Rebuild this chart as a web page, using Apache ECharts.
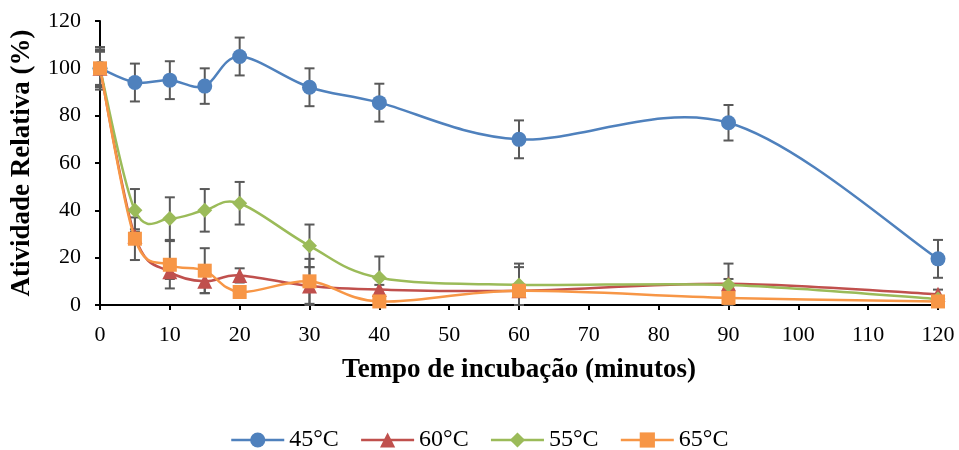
<!DOCTYPE html>
<html>
<head>
<meta charset="utf-8">
<script src="https://cdn.jsdelivr.net/npm/echarts@6/dist/echarts.min.js"></script>
<style>html,body{margin:0;padding:0;background:#fff}#c{width:959px;height:450px}</style>
</head>
<body>
<div id="c"></div>
<script>
const minutes = [0, 5, 10, 15, 20, 30, 40, 60, 90, 120];
const seriesNames = ['45°C', '60°C', '55°C', '65°C'];
const v45 = [100, 94, 95, 92.5, 105, 92, 85.5, 70, 77, 19.5];
const v60 = [100, 29, 14, 10, 12.5, 8, 6.5, 6, 9, 4.5];
const v55 = [100, 40, 36.5, 40, 43, 25, 11.5, 8.5, 8.5, 2.5];
const v65 = [100, 28, 17, 14.5, 5.5, 10, 1.5, 6, 3, 1.5];
const e45 = [9, 8, 8, 7.5, 8, 8, 8, 8, 7.5, 8];
const e60 = [7.5, 3, 3, 5, 3, 8, 2, 2, 2, 2];
const e55 = [8, 9, 9, 9, 9, 9, 9, 9, 9, 1];
const e65 = [7, 9, 10, 9.5, 2, 9.5, 2, 10, 2, 1];
const xTicks = { min: 0, max: 120, interval: 10 };
const yTicks = { min: 0, max: 120, interval: 20 };

const colors = ['#4F81BD', '#C0504D', '#9BBB59', '#F79646'];
const symbols = ['circle', 'triangle', 'diamond', 'rect'];
const symbolSizes = [15, 15, 15, 14];
const values = [v45, v60, v55, v65];
const errors = [e45, e60, e55, e65];
const font = "'Liberation Serif', 'Times New Roman', serif";

const series = [];
// error bars
values.forEach((vals, i) => {
  series.push({
    type: 'custom',
    name: seriesNames[i] + ' err',
    silent: true,
    z: 1,
    clip: false,
    data: minutes.map((m, k) => [m, vals[k], errors[i][k]]),
    renderItem: function (params, api) {
      const x = api.value(0), y = api.value(1), e = api.value(2);
      const top = api.coord([x, y + e]);
      const bot = api.coord([x, Math.max(0, y - e)]);
      const hw = 5;
      const st = { stroke: '#595959', lineWidth: 2 };
      return {
        type: 'group',
        children: [
          { type: 'line', shape: { x1: top[0], y1: top[1], x2: bot[0], y2: bot[1] }, style: st },
          { type: 'line', shape: { x1: top[0] - hw, y1: top[1], x2: top[0] + hw, y2: top[1] }, style: st },
          { type: 'line', shape: { x1: bot[0] - hw, y1: bot[1], x2: bot[0] + hw, y2: bot[1] }, style: st }
        ]
      };
    }
  });
});
// smoothed curves (Catmull-Rom style, like spreadsheet smoothing)
values.forEach((vals, i) => {
  series.push({
    type: 'custom',
    name: seriesNames[i] + ' curve',
    silent: true,
    z: 2,
    clip: false,
    data: minutes.map((m, k) => [m, vals[k], k]),
    renderItem: function (params, api) {
      const k = api.value(2);
      if (k >= minutes.length - 1) return null;
      const P = (j) => {
        j = Math.max(0, Math.min(minutes.length - 1, j));
        return api.coord([minutes[j], vals[j]]);
      };
      const p0 = P(k - 1), p1 = P(k), p2 = P(k + 1), p3 = P(k + 2);
      const t = 1 / 6;
      return {
        type: 'bezierCurve',
        shape: {
          x1: p1[0], y1: p1[1], x2: p2[0], y2: p2[1],
          cpx1: p1[0] + (p2[0] - p0[0]) * t, cpy1: p1[1] + (p2[1] - p0[1]) * t,
          cpx2: p2[0] - (p3[0] - p1[0]) * t, cpy2: p2[1] - (p3[1] - p1[1]) * t
        },
        style: { stroke: colors[i], lineWidth: 2.5, fill: null }
      };
    }
  });
});
// markers
values.forEach((vals, i) => {
  series.push({
    type: 'line',
    name: seriesNames[i],
    z: 3,
    symbol: symbols[i],
    symbolSize: symbolSizes[i],
    showAllSymbol: true,
    data: minutes.map((m, k) => [m, vals[k]]),
    lineStyle: { color: colors[i], width: 2.5, opacity: 0 },
    itemStyle: { color: colors[i] }
  });
});

const chart = echarts.init(document.getElementById('c'));
chart.setOption({
  animation: false,
  color: colors,
  grid: { left: 100, right: 21, top: 21, bottom: 145 },
  legend: {
    data: seriesNames.map((n, i) => ({
      name: n,
      lineStyle: { color: colors[i], width: 2.5, opacity: 1 },
      itemStyle: { color: colors[i] }
    })),
    left: 230,
    top: 428,
    padding: 0,
    itemWidth: 53,
    itemHeight: 19,
    itemGap: 21,
    textStyle: { fontFamily: font, fontSize: 24, color: '#000' }
  },
  xAxis: {
    type: 'value',
    min: xTicks.min, max: xTicks.max, interval: xTicks.interval,
    name: 'Tempo de incubação (minutos)',
    nameLocation: 'middle',
    nameGap: 52,
    nameTextStyle: { fontFamily: font, fontSize: 27, fontWeight: 'bold', color: '#000' },
    axisLine: { lineStyle: { color: '#000', width: 2 } },
    axisTick: { show: true, length: 5, lineStyle: { color: '#000', width: 2 } },
    axisLabel: { fontFamily: font, fontSize: 22, color: '#000', margin: 19 },
    splitLine: { show: false }
  },
  yAxis: {
    type: 'value',
    min: yTicks.min, max: yTicks.max, interval: yTicks.interval,
    name: 'Atividade Relativa (%)',
    nameLocation: 'middle',
    nameGap: 64,
    nameRotate: 90,
    nameTextStyle: { fontFamily: font, fontSize: 27, fontWeight: 'bold', color: '#000' },
    axisLine: { show: true, lineStyle: { color: '#000', width: 2 } },
    axisTick: { show: true, length: 5, lineStyle: { color: '#000', width: 2 } },
    axisLabel: { fontFamily: font, fontSize: 22, color: '#000', margin: 19 },
    splitLine: { show: false }
  },
  series: series
});
</script>
</body>
</html>
